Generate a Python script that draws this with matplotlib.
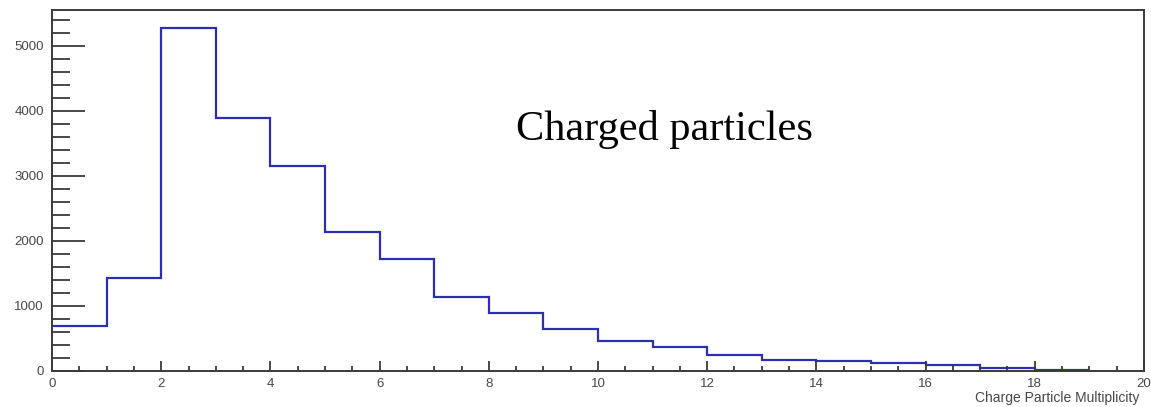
import numpy as np
import matplotlib
matplotlib.use("Agg")
import matplotlib.pyplot as plt
from matplotlib.ticker import MultipleLocator

# bin edges and counts
bin_edges = np.arange(0, 20, 1)
counts = [697, 1431, 5277, 3897, 3158, 2143, 1718, 1138, 888, 641,
          455, 364, 246, 172, 148, 118, 87, 51, 20]
x_ticks = np.arange(0, 21, 2)
y_ticks = np.arange(0, 5001, 1000)

axis_col = '#3a3a3a'
label_col = '#474747'

fig = plt.figure(figsize=(11.51, 4.07), dpi=100)
ax = fig.add_axes([0.0452, 0.0885, 0.9487, 0.887])

ax.stairs(counts, bin_edges, color='#2e2eb0', linewidth=1.6, baseline=None)

ax.set_xlim(0, 20)
ax.set_ylim(0, max(counts) * 1.052)
ax.set_xticks(x_ticks)
ax.set_yticks(y_ticks)
ax.xaxis.set_minor_locator(MultipleLocator(0.5))
ax.yaxis.set_minor_locator(MultipleLocator(200))

for s in ax.spines.values():
    s.set_color(axis_col)
    s.set_linewidth(1.4)

ax.tick_params(axis='x', which='major', direction='in', length=7.5, width=1.3,
               color=axis_col, labelsize=9.5, labelcolor=label_col, pad=5)
ax.tick_params(axis='x', which='minor', direction='in', length=3.5, width=1.3,
               color=axis_col)
ax.tick_params(axis='y', which='major', direction='in', length=24, width=1.3,
               color=axis_col, labelsize=9.5, labelcolor=label_col, pad=6)
ax.tick_params(axis='y', which='minor', direction='in', length=13, width=1.3,
               color=axis_col)
for lab in ax.get_xticklabels() + ax.get_yticklabels():
    lab.set_family('Liberation Sans')

ax.text(0.996, -0.0748, 'Charge Particle Multiplicity', transform=ax.transAxes,
        ha='right', va='center', fontsize=10, color=label_col, family='Liberation Sans')

ax.text(0.5604, 0.64, 'Charged particles', transform=ax.transAxes,
        ha='center', va='baseline', fontsize=30.5, color='black', family='Liberation Serif')

fig.savefig('out.png', dpi=100)
plt.close(fig)
